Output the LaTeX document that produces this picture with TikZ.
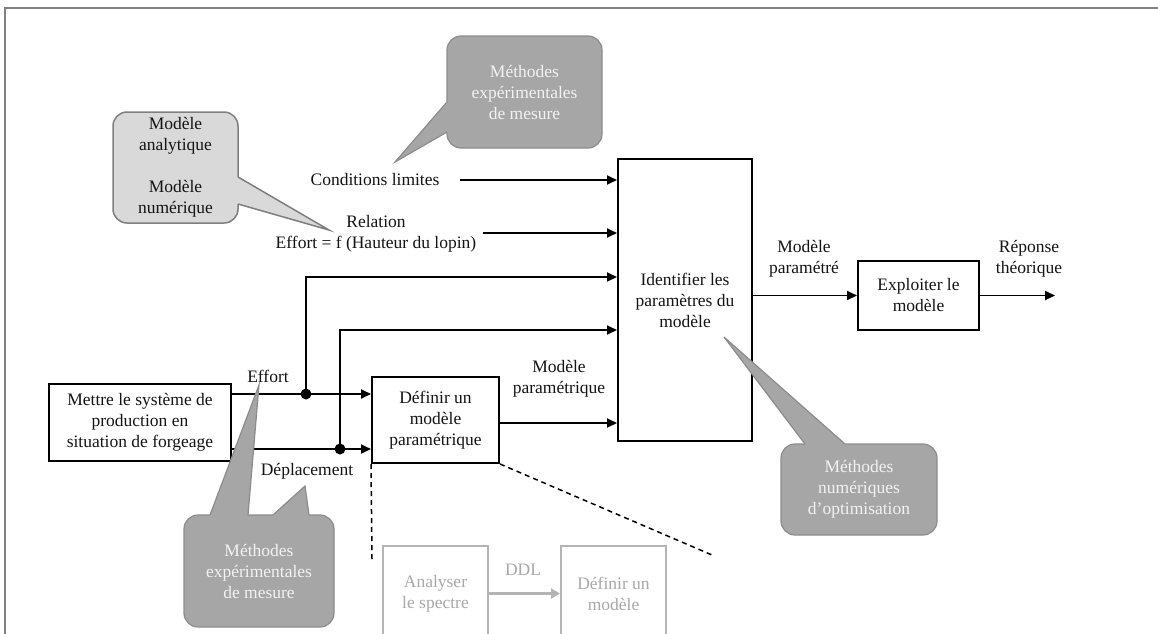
\documentclass[tikz,border=0pt]{standalone}
\usepackage{fontspec}
\setmainfont{Liberation Serif}
\usetikzlibrary{arrows.meta,calc}
\definecolor{calldark}{HTML}{A6A6A6}
\definecolor{calldarkb}{HTML}{8C8C8C}
\definecolor{calllight}{HTML}{D9D9D9}
\definecolor{calllightb}{HTML}{7F7F7F}
\definecolor{ghost}{HTML}{B4B4B4}
\definecolor{ghosttext}{HTML}{A8A8A8}
\definecolor{framegray}{HTML}{808080}
\definecolor{calltext}{HTML}{F2F2F2}
\definecolor{ink}{HTML}{141414}
\begin{document}
\begin{tikzpicture}[x=1pt,y=-1pt,
  every node/.style={font=\fontsize{17.5}{21}\selectfont, align=center, inner sep=0pt, text=ink},
  procbox/.style={draw=black, line width=2pt, fill=white},
  arr/.style={line width=1.8pt, -{Triangle[length=10pt,width=9pt]}},
  dot/.style={circle, fill=black, minimum size=11pt},
  darkcall/.style={draw=calldarkb, line width=1.2pt, fill=calldark, rounded corners=14pt, text=calltext},
  lightcall/.style={draw=calllightb, line width=1.5pt, fill=calllight, rounded corners=14pt},
  ghostbox/.style={draw=ghost, line width=2pt, text=ghosttext},
  dashline/.style={line width=1.5pt, dash pattern=on 5pt off 4pt}
]
\useasboundingbox (0,0) rectangle (1158,633);
\clip (0,0) rectangle (1158,633);
\fill[white] (0,0) rectangle (1158,633);
\draw[framegray, line width=1.5pt] (5,640) -- (5,8) -- (1165,8);

% process boxes
\node[procbox, minimum width=134pt, minimum height=282pt] (big) at (685,300) {Identifier les\\paramètres du\\modèle};
\node[procbox, minimum width=121pt, minimum height=69pt] (expl) at (918.5,295.5) {Exploiter le\\modèle};
\node[procbox, minimum width=182pt, minimum height=77pt] (mettre) at (140,422.5) {Mettre le système de\\production en\\situation de forgeage};
\node[procbox, minimum width=127pt, minimum height=86pt] (def) at (435.5,420) {Définir un\\modèle\\paramétrique};

% labels
\node (cond) at (375,180) {Conditions limites};
\node (rel) at (376,234) {Relation\\Effort = f (Hauteur du lopin)};
\node (effl) at (268,376) {Effort};
\node (depl) at (307,471) {Déplacement};
\node (mpq) at (559,378.5) {Modèle\\paramétrique};
\node (mpe) at (804,258.5) {Modèle\\paramétré};
\node (rep) at (1029,258.5) {Réponse\\théorique};

% coordinates
\coordinate (c1) at (460,180);
\coordinate (c2) at (483,233);
\coordinate (j1) at (306,394);
\coordinate (j2) at (340,449);
\coordinate (y3) at (0,277);
\coordinate (y4) at (0,330);
\coordinate (y5) at (0,423);
\coordinate (fin) at (1055,295.5);
\coordinate (dv) at (372,559);
\coordinate (dd) at (712,555);

% connectors
\draw[arr] (c1) -- (c1 -| big.west);
\draw[arr] (c2) -- (c2 -| big.west);
\draw[arr] (mettre.east |- j1) -- (def.west |- j1);
\draw[arr] (mettre.east |- j2) -- (def.west |- j2);
\draw[arr] (j1) -- (j1 |- y3) -- (big.west |- y3);
\draw[arr] (j2) -- (j2 |- y4) -- (big.west |- y4);
\draw[arr] (def.east |- y5) -- (big.west |- y5);
\draw[arr] (big.east |- expl.west) -- (expl.west);
\draw[arr] (expl.east) -- (fin);
\node[dot] (d1) at (j1) {};
\node[dot] (d2) at (j2) {};

% zoom dashed lines
\draw[dashline] (def.south west) -- (dv);
\draw[dashline] (def.south east) -- (dd);

% ghost sub-process
\node[ghostbox, minimum width=105pt, minimum height=95pt] (ana) at (435.5,593.5) {Analyser\\le spectre};
\node[ghostbox, minimum width=105pt, minimum height=95pt] (def2) at (613.5,593.5) {Définir un\\modèle};
\draw[ghost, line width=3pt, -{Triangle[length=9pt,width=10pt]}] (ana.east) -- (def2.west);
\node[text=ghosttext] (ddl) at (523,570) {DDL};

% callout top
\node[darkcall, minimum width=155pt, minimum height=112pt] (cexp) at (524.5,92) {Méthodes\\expérimentales\\de mesure};
\fill[calldark] (395,162) -- (447,102) -- (451,102) -- (451,132) -- (447,132) -- cycle;
\draw[calldarkb, line width=1.2pt] (447,102) -- (395,162) -- (447,132);

% callout left
\node[lightcall, minimum width=125pt, minimum height=111pt] (cmod) at (175.5,167.5) {Modèle\\analytique\\[21pt]Modèle\\numérique};
\fill[calllight] (329,230) -- (238,177) -- (234,177) -- (234,204) -- (238,204) -- cycle;
\draw[calllightb, line width=1.5pt] (238,177) -- (329,230) -- (238,204);

% callout bottom right
\node[darkcall, minimum width=156pt, minimum height=91pt] (copt) at (859,489.5) {Méthodes\\numériques\\d’optimisation};
\fill[calldark] (724,337) -- (805,444) -- (805,448) -- (845,448) -- (845,444) -- cycle;
\draw[calldarkb, line width=1.2pt] (805,444) -- (724,337) -- (845,444);

% callout bottom left
\node[darkcall, minimum width=150pt, minimum height=112pt] (cmes) at (259,571) {Méthodes\\expérimentales\\de mesure};
\fill[calldark] (259,385) -- (210,515) -- (210,519) -- (248,519) -- (248,515) -- cycle;
\draw[calldarkb, line width=1.2pt] (210,515) -- (259,385) -- (248,515);
\fill[calldark] (305,486) -- (273,515) -- (273,519) -- (309,519) -- (309,515) -- cycle;
\draw[calldarkb, line width=1.2pt] (273,515) -- (305,486) -- (309,515);
\end{tikzpicture}
\end{document}
